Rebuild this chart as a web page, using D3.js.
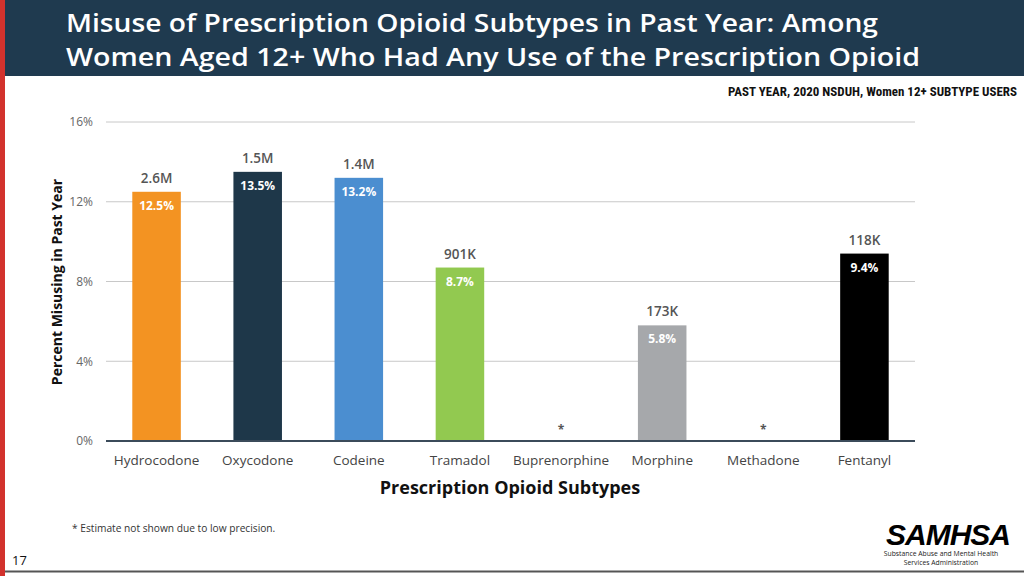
<!DOCTYPE html>
<html><head><meta charset="utf-8">
<script src="https://cdn.jsdelivr.net/npm/d3@7"></script>
<style>body{margin:0;background:#fff;}svg{display:block;font-family:"Open Sans","Noto Sans",sans-serif;}</style>
</head><body><svg id="c" width="1024" height="576"></svg>
<script>
const categories = ["Hydrocodone","Oxycodone","Codeine","Tramadol","Buprenorphine","Morphine","Methadone","Fentanyl"];
const percents = [12.5, 13.5, 13.2, 8.7, null, 5.8, null, 9.4];
const counts = ["2.6M","1.5M","1.4M","901K","","173K","","118K"];
const colors = ["#f39322","#1e3749","#4b8ed0","#92c950","#a6a8ab","#a6a8ab","#a6a8ab","#000000"];
const yTicks = [0,4,8,12,16];

const svg = d3.select("#c");
// red left stripe
svg.append("rect").attr("x",0).attr("y",0).attr("width",5).attr("height",576).attr("fill","#d2322d");
// header
svg.append("rect").attr("x",5).attr("y",0).attr("width",1019).attr("height",76).attr("fill","#1f3a4f");
svg.append("text").attr("x",66).attr("y",32).attr("fill","#fff").attr("font-size",24.5).attr("font-weight",600)
  .attr("textLength",812).attr("lengthAdjust","spacingAndGlyphs")
  .text("Misuse of Prescription Opioid Subtypes in Past Year: Among");
svg.append("text").attr("x",66).attr("y",66).attr("fill","#fff").attr("font-size",24.5).attr("font-weight",600)
  .attr("textLength",854).attr("lengthAdjust","spacingAndGlyphs")
  .text("Women Aged 12+ Who Had Any Use of the Prescription Opioid");
svg.append("text").attr("x",1017).attr("y",96).attr("text-anchor","end").attr("font-size",12.5).attr("font-weight",700)
  .attr("font-family","'Liberation Sans Narrow','Roboto Condensed',Arial,sans-serif")
  .attr("textLength",289).attr("lengthAdjust","spacingAndGlyphs")
  .attr("fill","#111").text("PAST YEAR, 2020 NSDUH, Women 12+ SUBTYPE USERS");

const x = d3.scaleBand().domain(categories).range([106,915]).paddingInner(0.52).paddingOuter(0.26);
const y = d3.scaleLinear().domain([0,16]).range([441,122]);

// grid
const g = svg.append("g");
g.selectAll("line.grid").data(yTicks.filter(d=>d>0)).join("line")
  .attr("x1",106).attr("x2",915).attr("y1",d=>y(d)).attr("y2",d=>y(d))
  .attr("stroke","#c8c8c8").attr("stroke-width",1);
const yAxis = svg.append("g").attr("transform","translate(106,0)")
  .call(d3.axisLeft(y).tickValues(yTicks).tickFormat(d=>d+"%").tickSize(0).tickPadding(13));
yAxis.select(".domain").remove();
yAxis.selectAll("text").attr("font-size",12).attr("fill","#666").attr("font-family","'Open Sans','Noto Sans',sans-serif");

// bars
const data = categories.map((c,i)=>({c, v:percents[i], n:counts[i], col:colors[i]}));
const valid = data.filter(d=>d.v!=null);
svg.selectAll("rect.bar").data(valid).join("rect").attr("class","bar")
  .attr("x",d=>x(d.c)).attr("width",x.bandwidth())
  .attr("y",d=>y(d.v)).attr("height",d=>y(0)-y(d.v)).attr("fill",d=>d.col);
svg.selectAll("text.cnt").data(valid).join("text").attr("class","cnt")
  .attr("x",d=>x(d.c)+x.bandwidth()/2).attr("y",d=>y(d.v)-9).attr("text-anchor","middle")
  .attr("font-size",13.5).attr("font-weight",600).attr("fill","#555").text(d=>d.n);
svg.selectAll("text.pct").data(valid).join("text").attr("class","pct")
  .attr("x",d=>x(d.c)+x.bandwidth()/2).attr("y",d=>y(d.v)+18).attr("text-anchor","middle")
  .attr("font-size",12).attr("font-weight",700).attr("fill","#fff").text(d=>d.v.toFixed(1)+"%");
svg.selectAll("text.ast").data(data.filter(d=>d.v==null)).join("text").attr("class","ast")
  .attr("x",d=>x(d.c)+x.bandwidth()/2).attr("y",y(0)-7).attr("text-anchor","middle")
  .attr("font-size",12).attr("font-weight",700).attr("fill","#555").text("*");

// baseline
svg.append("line").attr("x1",106).attr("x2",915).attr("y1",y(0)).attr("y2",y(0)).attr("stroke","#3b4b5a").attr("stroke-width",2);

// x axis
const xAxis = svg.append("g").attr("transform",`translate(0,${y(0)})`)
  .call(d3.axisBottom(x).tickSize(0).tickPadding(14));
xAxis.select(".domain").remove();
xAxis.selectAll("text").attr("font-size",13.5).attr("fill","#444").attr("font-family","'Open Sans','Noto Sans',sans-serif");

// axis titles
svg.append("text").attr("x",510).attr("y",494).attr("text-anchor","middle").attr("font-size",18).attr("font-weight",700).attr("fill","#111")
  .text("Prescription Opioid Subtypes");
svg.append("text").attr("transform","translate(62,282) rotate(-90)").attr("text-anchor","middle").attr("font-size",14).attr("font-weight",700).attr("fill","#111")
  .text("Percent Misusing in Past Year");

// footnote
svg.append("text").attr("x",72).attr("y",532).attr("font-size",10.2).attr("fill","#333").text("* Estimate not shown due to low precision.");
svg.append("text").attr("x",12).attr("y",565).attr("font-size",13).attr("font-weight",400).attr("fill","#111").text("17");

// logo
svg.append("text").attr("x",948).attr("y",545).attr("text-anchor","middle").attr("font-size",30).attr("font-weight",900).attr("font-style","italic")
  .attr("font-family","'Liberation Sans',Arial,sans-serif").attr("fill","#000").attr("letter-spacing",-1).text("SAMHSA");
svg.append("text").attr("x",941).attr("y",556).attr("text-anchor","middle").attr("font-size",6.8).attr("fill","#222").text("Substance Abuse and Mental Health");
svg.append("text").attr("x",941).attr("y",565).attr("text-anchor","middle").attr("font-size",6.8).attr("fill","#222").text("Services Administration");

// bottom rule
svg.append("line").attr("x1",5).attr("x2",1024).attr("y1",571.5).attr("y2",571.5).attr("stroke","#555").attr("stroke-width",2);
</script></body></html>
